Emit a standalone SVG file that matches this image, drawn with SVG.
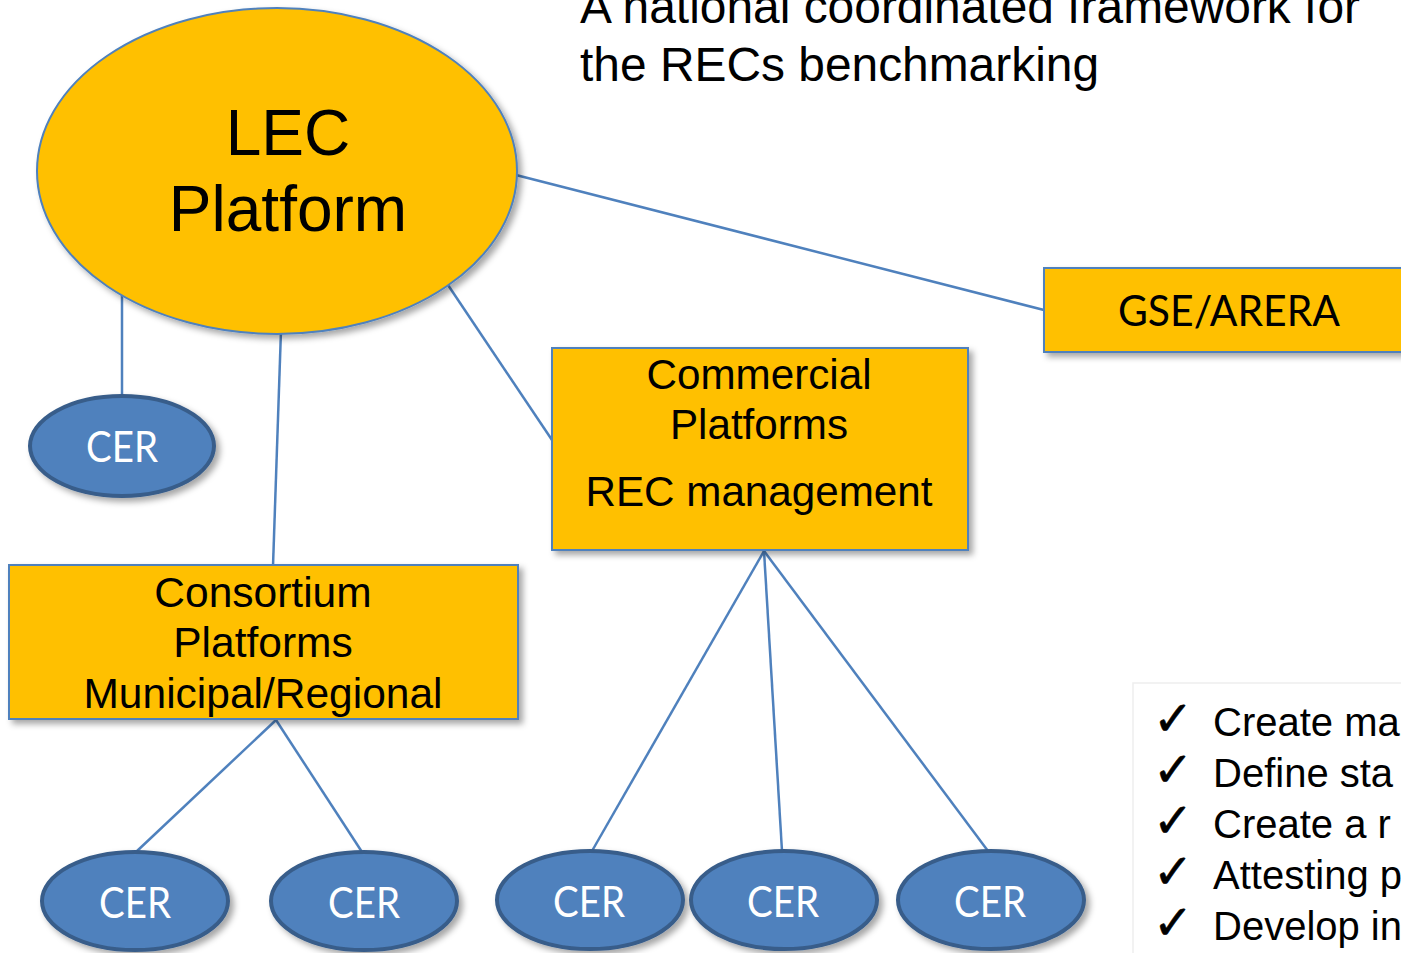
<svg xmlns="http://www.w3.org/2000/svg" width="1401" height="953" viewBox="0 0 1401 953">
<style>
.box{fill:#FFC000;stroke:#4F81BD;stroke-width:2}
.cer{fill:#4F81BD;stroke:#385D8A;stroke-width:4}
.lbl{font-family:"Liberation Sans",Arial,sans-serif;fill:#000;text-anchor:middle}
.cert{font-family:Lato,"Liberation Sans",sans-serif;fill:#fff;font-size:42px;text-anchor:middle}
.conn{stroke:#4F81BD;stroke-width:2.5;fill:none}
.txt{font-family:"Liberation Sans",Arial,sans-serif;fill:#000}
.chk{font-family:"DejaVu Sans",sans-serif;font-size:48px;fill:#000;stroke:#000;stroke-width:0.6}
</style>
<defs>
<filter id="sh" x="-10%" y="-10%" width="130%" height="130%">
<feDropShadow dx="4" dy="4" stdDeviation="3" flood-color="#000" flood-opacity="0.35"/>
</filter>
</defs>
<rect width="1401" height="953" fill="#fff"/>
<g id="title">
<text class="txt" x="580" y="23" font-size="47.9">A national coordinated framework for</text>
<text class="txt" x="580" y="81" font-size="47.9">the RECs benchmarking</text>
</g>
<g id="connectors">
<line class="conn" x1="516" y1="175" x2="1044" y2="310"/>
<line class="conn" x1="122" y1="290" x2="122" y2="396"/>
<line class="conn" x1="281" y1="330" x2="273" y2="566"/>
<line class="conn" x1="448" y1="285" x2="552" y2="440"/>
<line class="conn" x1="276" y1="720" x2="136" y2="852"/>
<line class="conn" x1="276" y1="720" x2="362" y2="852"/>
<line class="conn" x1="764" y1="551" x2="592" y2="851"/>
<line class="conn" x1="764" y1="551" x2="782" y2="851"/>
<line class="conn" x1="764" y1="551" x2="988" y2="851"/>
</g>
<g id="lec">
<ellipse cx="277" cy="171" rx="240" ry="163" fill="#FFC000" stroke="#4F81BD" stroke-width="2" filter="url(#sh)"/>
<text class="lbl" x="288" y="155" font-size="64">LEC</text>
<text class="lbl" x="288" y="231" font-size="64">Platform</text>
</g>
<g id="gse">
<rect class="box" x="1044" y="268" width="380" height="84" filter="url(#sh)"/>
<text class="cert" x="1229" y="326" font-size="40" style="fill:#000" textLength="222" lengthAdjust="spacingAndGlyphs">GSE/ARERA</text>
</g>
<g id="commercial">
<rect class="box" x="552" y="348" width="416" height="202" filter="url(#sh)"/>
<text class="lbl" x="759" y="389" font-size="42.2">Commercial</text>
<text class="lbl" x="759" y="439" font-size="42.2">Platforms</text>
<text class="lbl" x="759" y="506" font-size="42.2">REC management</text>
</g>
<g id="consortium">
<rect class="box" x="9" y="565" width="509" height="154" filter="url(#sh)"/>
<text class="lbl" x="263" y="607" font-size="42.5">Consortium</text>
<text class="lbl" x="263" y="657" font-size="42.5">Platforms</text>
<text class="lbl" x="263" y="708" font-size="42.5">Municipal/Regional</text>
</g>
<g id="cer1">
<ellipse class="cer" cx="122" cy="446" rx="92" ry="50" filter="url(#sh)"/>
<text class="cert" x="122" y="462" textLength="72" lengthAdjust="spacingAndGlyphs">CER</text>
</g>
<g id="cer2">
<ellipse class="cer" cx="135" cy="901" rx="93" ry="49" filter="url(#sh)"/>
<text class="cert" x="135" y="918" textLength="72" lengthAdjust="spacingAndGlyphs">CER</text>
</g>
<g id="cer3">
<ellipse class="cer" cx="364" cy="901" rx="93" ry="49" filter="url(#sh)"/>
<text class="cert" x="364" y="918" textLength="72" lengthAdjust="spacingAndGlyphs">CER</text>
</g>
<g id="cer4">
<ellipse class="cer" cx="590" cy="900" rx="93" ry="49" filter="url(#sh)"/>
<text class="cert" x="589" y="917" textLength="72" lengthAdjust="spacingAndGlyphs">CER</text>
</g>
<g id="cer5">
<ellipse class="cer" cx="784" cy="900" rx="93" ry="49" filter="url(#sh)"/>
<text class="cert" x="783" y="917" textLength="72" lengthAdjust="spacingAndGlyphs">CER</text>
</g>
<g id="cer6">
<ellipse class="cer" cx="991" cy="900" rx="93" ry="49" filter="url(#sh)"/>
<text class="cert" x="990" y="917" textLength="72" lengthAdjust="spacingAndGlyphs">CER</text>
</g>
<g id="checklist">
<rect x="1133" y="683" width="300" height="300" fill="#fff" stroke="#eeeeee" stroke-width="1.5"/>
<text class="chk" x="1153" y="735">✓</text>
<text class="chk" x="1153" y="786">✓</text>
<text class="chk" x="1153" y="837">✓</text>
<text class="chk" x="1153" y="888">✓</text>
<text class="chk" x="1153" y="939">✓</text>
<text class="txt" x="1213" y="736" font-size="40">Create ma</text>
<text class="txt" x="1213" y="787" font-size="40">Define sta</text>
<text class="txt" x="1213" y="838" font-size="40">Create a r</text>
<text class="txt" x="1213" y="889" font-size="40">Attesting p</text>
<text class="txt" x="1213" y="940" font-size="40">Develop in</text>
</g>
</svg>
